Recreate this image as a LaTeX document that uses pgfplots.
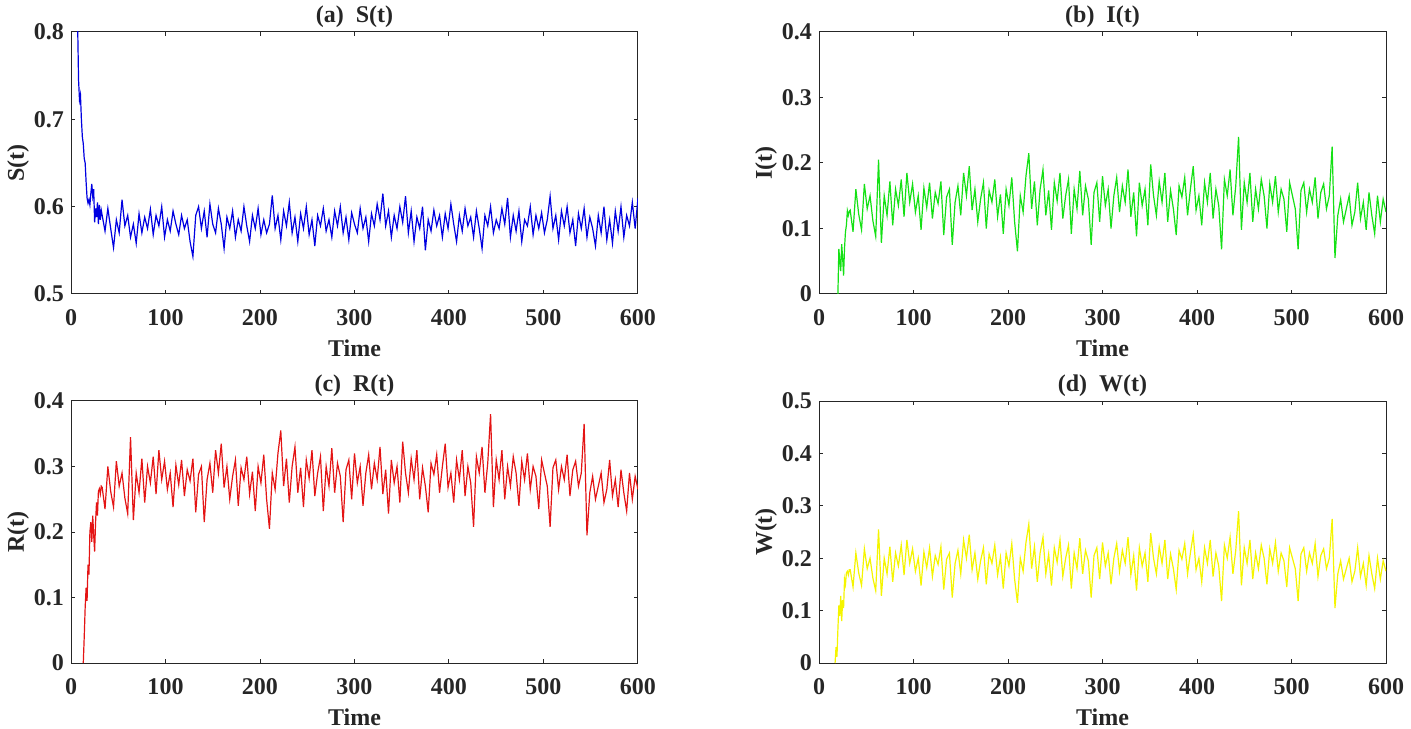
\documentclass[border=0pt]{standalone}
\usepackage{fontspec}
\setmainfont{Liberation Serif}
\usepackage{pgfplots}
\pgfplotsset{compat=1.18}
\usepackage{pgfplotstable}

\definecolor{sblue}{RGB}{0,0,225}
\definecolor{igreen}{RGB}{20,225,20}
\definecolor{rred}{RGB}{228,20,20}
\definecolor{wyellow}{RGB}{245,245,0}
\definecolor{axgray}{RGB}{38,38,38}

\pgfplotstableread{
t S I R W
6 0.860 nan nan nan
7 0.810 nan nan nan
8 0.745 nan nan nan
9 0.722 nan nan nan
10 0.728 nan nan nan
11 0.700 nan nan nan
12 0.680 nan nan nan
13 0.672 nan 0.000 nan
14 0.655 nan 0.040 nan
15 0.650 nan 0.085 nan
16 0.628 nan 0.115 nan
17 0.610 nan 0.095 0.000
18 0.604 nan 0.150 0.030
19 0.608 nan 0.135 0.012
20 0.602 0.000 0.200 0.065
21 0.615 0.069 0.215 0.110
22 0.626 0.050 0.185 0.090
23 0.612 0.035 0.225 0.128
24 0.620 0.076 0.195 0.080
25 0.582 0.055 0.170 0.120
26 0.598 0.028 0.215 0.105
27 0.588 0.070 0.245 0.160
28 0.605 0.095 0.225 0.150
29 0.580 0.105 0.262 0.172
30 0.602 0.127 0.266 0.175
31 0.585 0.120 0.258 0.168
32 0.596 0.126 0.270 0.178
33 0.590 0.128 0.268 0.178
36 0.572 0.095 0.235 0.145
39 0.598 0.160 0.300 0.210
42 0.575 0.122 0.262 0.172
45 0.553 0.098 0.238 0.148
48 0.585 0.168 0.308 0.218
51 0.570 0.130 0.270 0.180
54 0.608 0.150 0.290 0.200
57 0.578 0.112 0.252 0.162
60 0.590 0.088 0.228 0.138
63 0.565 0.205 0.345 0.255
66 0.580 0.078 0.218 0.128
69 0.558 0.150 0.290 0.200
72 0.592 0.120 0.260 0.170
75 0.570 0.172 0.312 0.222
78 0.588 0.105 0.245 0.155
81 0.575 0.160 0.300 0.210
84 0.597 0.135 0.275 0.185
87 0.568 0.175 0.315 0.225
90 0.590 0.118 0.258 0.168
93 0.578 0.185 0.325 0.235
96 0.600 0.140 0.280 0.190
99 0.565 0.168 0.308 0.218
102 0.585 0.125 0.265 0.175
105 0.572 0.150 0.290 0.200
108 0.595 0.098 0.238 0.148
111 0.580 0.162 0.302 0.212
114 0.568 0.132 0.272 0.182
117 0.590 0.170 0.310 0.220
120 0.575 0.115 0.255 0.165
123 0.585 0.155 0.295 0.205
126 0.560 0.138 0.278 0.188
129 0.543 0.172 0.312 0.222
132 0.590 0.090 0.230 0.140
135 0.600 0.148 0.288 0.198
138 0.575 0.160 0.300 0.210
141 0.595 0.075 0.215 0.125
144 0.565 0.140 0.280 0.190
147 0.603 0.165 0.305 0.215
150 0.580 0.120 0.260 0.170
153 0.570 0.185 0.325 0.235
156 0.598 0.150 0.290 0.200
159 0.580 0.195 0.335 0.245
162 0.552 0.128 0.268 0.178
165 0.588 0.160 0.300 0.210
168 0.575 0.110 0.250 0.160
171 0.595 0.145 0.285 0.195
174 0.565 0.170 0.310 0.220
177 0.585 0.100 0.240 0.150
180 0.572 0.158 0.298 0.208
183 0.600 0.140 0.280 0.190
186 0.578 0.175 0.315 0.225
189 0.560 0.118 0.258 0.168
192 0.590 0.152 0.292 0.202
195 0.575 0.092 0.232 0.142
198 0.598 0.160 0.300 0.210
201 0.568 0.135 0.275 0.185
204 0.585 0.178 0.318 0.228
207 0.570 0.110 0.250 0.160
210 0.580 0.065 0.205 0.115
213 0.613 0.150 0.290 0.200
216 0.575 0.125 0.265 0.175
219 0.590 0.180 0.320 0.230
222 0.562 0.215 0.355 0.265
225 0.595 0.130 0.270 0.180
228 0.578 0.172 0.312 0.222
231 0.605 0.105 0.245 0.155
234 0.570 0.160 0.300 0.210
237 0.588 0.190 0.330 0.240
240 0.560 0.120 0.260 0.170
243 0.592 0.158 0.298 0.208
246 0.575 0.098 0.238 0.148
249 0.600 0.170 0.310 0.220
252 0.568 0.142 0.282 0.192
255 0.585 0.185 0.325 0.235
258 0.555 0.115 0.255 0.165
261 0.590 0.150 0.290 0.200
264 0.578 0.175 0.315 0.225
267 0.598 0.092 0.232 0.142
270 0.572 0.160 0.300 0.210
273 0.585 0.130 0.270 0.180
276 0.565 0.188 0.328 0.238
279 0.595 0.120 0.260 0.170
282 0.578 0.165 0.305 0.215
285 0.600 0.145 0.285 0.195
288 0.570 0.075 0.215 0.125
291 0.588 0.155 0.295 0.205
294 0.562 0.170 0.310 0.220
297 0.593 0.110 0.250 0.160
300 0.580 0.180 0.320 0.230
303 0.570 0.135 0.275 0.185
306 0.598 0.160 0.300 0.210
309 0.575 0.100 0.240 0.150
312 0.588 0.150 0.290 0.200
315 0.560 0.178 0.318 0.228
318 0.592 0.125 0.265 0.175
321 0.578 0.165 0.305 0.215
324 0.603 0.140 0.280 0.190
327 0.585 0.190 0.330 0.240
330 0.615 0.118 0.258 0.168
333 0.578 0.155 0.295 0.205
336 0.595 0.088 0.228 0.138
339 0.565 0.170 0.310 0.220
342 0.590 0.135 0.275 0.185
345 0.575 0.160 0.300 0.210
348 0.600 0.105 0.245 0.155
351 0.582 0.198 0.338 0.248
354 0.612 0.150 0.290 0.200
357 0.570 0.120 0.260 0.170
360 0.595 0.172 0.312 0.222
363 0.560 0.140 0.280 0.190
366 0.588 0.185 0.325 0.235
369 0.575 0.110 0.250 0.160
372 0.600 0.158 0.298 0.208
375 0.550 0.130 0.270 0.180
378 0.585 0.090 0.230 0.140
381 0.572 0.165 0.305 0.215
384 0.596 0.148 0.288 0.198
387 0.578 0.178 0.318 0.228
390 0.590 0.120 0.260 0.170
393 0.565 0.160 0.300 0.210
396 0.592 0.195 0.335 0.245
399 0.575 0.128 0.268 0.178
402 0.603 0.150 0.290 0.200
405 0.580 0.105 0.245 0.155
408 0.560 0.170 0.310 0.220
411 0.590 0.140 0.280 0.190
414 0.572 0.185 0.325 0.235
417 0.598 0.115 0.255 0.165
420 0.578 0.160 0.300 0.210
423 0.588 0.135 0.275 0.185
426 0.565 0.068 0.208 0.118
429 0.595 0.175 0.315 0.225
432 0.575 0.150 0.290 0.200
435 0.552 0.190 0.330 0.240
438 0.590 0.120 0.260 0.170
441 0.578 0.165 0.305 0.215
444 0.600 0.240 0.380 0.290
447 0.570 0.098 0.238 0.148
450 0.585 0.170 0.310 0.220
453 0.575 0.140 0.280 0.190
456 0.598 0.185 0.325 0.235
459 0.580 0.110 0.250 0.160
462 0.610 0.160 0.300 0.210
465 0.565 0.130 0.270 0.180
468 0.590 0.175 0.315 0.225
471 0.572 0.150 0.290 0.200
474 0.595 0.100 0.240 0.150
477 0.560 0.168 0.308 0.218
480 0.585 0.140 0.280 0.190
483 0.578 0.180 0.320 0.230
486 0.600 0.125 0.265 0.175
489 0.568 0.160 0.300 0.210
492 0.590 0.145 0.285 0.195
495 0.575 0.095 0.235 0.145
498 0.593 0.170 0.310 0.220
501 0.570 0.150 0.290 0.200
504 0.585 0.130 0.270 0.180
507 0.612 0.068 0.208 0.118
510 0.575 0.158 0.298 0.208
513 0.590 0.170 0.310 0.220
516 0.562 0.125 0.265 0.175
519 0.595 0.160 0.300 0.210
522 0.578 0.140 0.280 0.190
525 0.600 0.178 0.318 0.228
528 0.570 0.115 0.255 0.165
531 0.585 0.155 0.295 0.205
534 0.555 0.168 0.308 0.218
537 0.592 0.130 0.270 0.180
540 0.575 0.150 0.290 0.200
543 0.598 0.225 0.365 0.275
546 0.565 0.055 0.195 0.105
549 0.588 0.120 0.260 0.170
552 0.575 0.145 0.285 0.195
555 0.555 0.110 0.250 0.160
558 0.590 0.130 0.270 0.180
561 0.570 0.150 0.290 0.200
564 0.600 0.105 0.245 0.155
567 0.562 0.125 0.265 0.175
570 0.585 0.170 0.310 0.220
573 0.558 0.115 0.255 0.165
576 0.595 0.140 0.280 0.190
579 0.572 0.098 0.238 0.148
582 0.600 0.155 0.295 0.205
585 0.565 0.120 0.260 0.170
588 0.590 0.092 0.232 0.142
591 0.578 0.150 0.290 0.200
594 0.605 0.110 0.250 0.160
597 0.575 0.145 0.285 0.195
600 0.610 0.125 0.265 0.175
}\data

\pgfplotsset{
  panel/.style={
    scale only axis, width=283.5pt, height=131pt,
    anchor=south west,
    xmin=0, xmax=600, xtick={0,100,...,600},
    tick align=inside, xtick pos=both, ytick pos=both,
    major tick length=2.2pt,
    axis line style={axgray, line width=0.5pt},
    every tick/.style={axgray, line width=0.5pt},
    tick label style={font=\fontsize{12}{14}\selectfont\bfseries, text=black!85},
    label style={font=\fontsize{12}{14}\selectfont\bfseries, text=black!85},
    every axis title shift=0pt,
    title style={font=\fontsize{12}{14}\selectfont\bfseries, text=black!85, at={(axis description cs:0.5,1.057)}, anchor=center},
    /pgf/number format/assume math mode=true,
    yticklabel style={/pgf/number format/fixed},
    xticklabel style={anchor=center, yshift=-12pt},
    xlabel=Time,
    xlabel style={at={(axis description cs:0.5,-0.206)}, anchor=center},
    ylabel style={at={(axis description cs:-0.0935,0.5)}, anchor=center, rotate=0},
    clip=true,
  }
}

\begin{document}
\begin{tikzpicture}
\useasboundingbox (0,0) rectangle (705.5pt,364pt);

\begin{axis}[panel, at={(35.5pt,217pt)}, ymin=0.5, ymax=0.8, ytick={0.5,0.6,0.7,0.8},
  title={(a)~~S(t)}, ylabel={S(t)}]
\addplot[sblue, line width=0.6pt] table[x=t, y=S] {\data};
\end{axis}

\begin{axis}[panel, at={(409.5pt,217pt)}, ymin=0, ymax=0.4, ytick={0,0.1,0.2,0.3,0.4},
  title={(b)~~I(t)}, ylabel={I(t)}]
\addplot[igreen, line width=0.6pt] table[x=t, y=I] {\data};
\end{axis}

\begin{axis}[panel, at={(35.5pt,32.5pt)}, ymin=0, ymax=0.4, ytick={0,0.1,0.2,0.3,0.4},
  title={(c)~~R(t)}, ylabel={R(t)}]
\addplot[rred, line width=0.6pt] table[x=t, y=R] {\data};
\end{axis}

\begin{axis}[panel, at={(409.5pt,32.5pt)}, ymin=0, ymax=0.5, ytick={0,0.1,0.2,0.3,0.4,0.5},
  title={(d)~~W(t)}, ylabel={W(t)}]
\addplot[wyellow, line width=0.6pt] table[x=t, y=W] {\data};
\end{axis}
\end{tikzpicture}
\end{document}
